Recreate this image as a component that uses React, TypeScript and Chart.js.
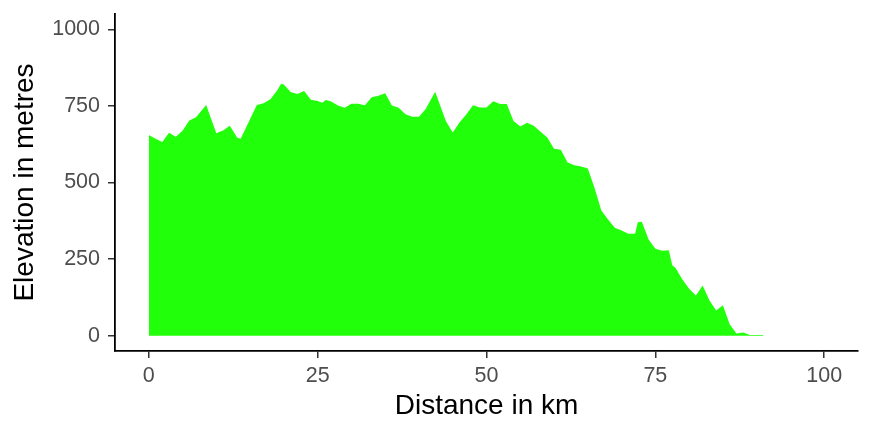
import React, { useEffect, useRef } from "react";
import { Chart, registerables } from "chart.js";

Chart.register(...registerables);

const distanceKm: number[] = [
  0, 1, 2, 3, 4, 5, 6, 7, 8.5, 10, 11, 12, 13.1, 13.6, 16, 17, 18, 19, 19.6, 20,
  21, 22, 23, 24, 25, 25.7, 26.2, 27, 28, 29, 30, 31, 32, 33, 34, 35, 36, 37, 38, 39,
  40, 41, 42.4, 44, 45, 46, 47, 48, 49, 50, 51, 52, 53, 54, 55, 56, 57, 58, 59, 60,
  61, 62, 63, 64, 65, 66, 67, 68, 69, 70, 71, 72, 72.4, 73, 74, 75, 76, 77, 77.5, 78,
  79, 80, 81, 82, 83, 84, 85, 86, 87, 88, 89, 90, 91,
];

const elevationM: number[] = [
  655, 643, 632, 662, 649, 669, 702, 713, 753, 661, 670, 685, 646, 643, 753, 759, 772, 800, 822, 820,
  795, 789, 799, 770, 766, 760, 769, 764, 751, 744, 757, 757, 752, 778, 783, 791, 751, 744, 723, 715,
  715, 740, 796, 700, 663, 696, 722, 752, 745, 745, 765, 756, 756, 701, 683, 695, 685, 666, 647, 610,
  607, 565, 556, 552, 546, 482, 409, 379, 352, 343, 333, 333, 370, 372, 314, 284, 277, 279, 230, 221,
  183, 153, 131, 164, 116, 82, 99, 37, 7, 10, 2, 2, 2,
];

const xTicks: number[] = [0, 25, 50, 75, 100];
const yTicks: number[] = [0, 250, 500, 750, 1000];

const xTitle = "Distance in km";
const yTitle = "Elevation in metres";

export default function App() {
  const canvasRef = useRef<HTMLCanvasElement | null>(null);

  useEffect(() => {
    document.body.style.margin = "0";
    const canvas = canvasRef.current;
    if (!canvas) return;
    const points = distanceKm.map((x, i) => ({ x, y: elevationM[i] }));
    const fontFamily = "'Liberation Sans', Arial, sans-serif";
    const chart = new Chart(canvas, {
      type: "line",
      data: {
        datasets: [
          {
            data: points,
            fill: "origin",
            backgroundColor: "rgb(34,255,10)",
            borderColor: "rgb(34,255,10)",
            borderWidth: 0,
            pointRadius: 0,
            tension: 0,
          },
        ],
      },
      options: {
        responsive: false,
        animation: false,
        layout: { padding: { top: 14, right: 15, left: 0, bottom: 0 } },
        plugins: { legend: { display: false }, tooltip: { enabled: false } },
        scales: {
          x: {
            type: "linear",
            min: -5,
            max: 105,
            afterFit: (s: any) => {
              s.height = 85;
              s.paddingLeft = 0;
              s.paddingRight = 0;
            },
            afterBuildTicks: (s: any) => {
              s.ticks = xTicks.map((v) => ({ value: v }));
            },
            grid: { drawOnChartArea: false, drawTicks: true, tickLength: 7, color: "#333333", lineWidth: 1.5 },
            border: { display: true, color: "#000000", width: 1.8 },
            ticks: {
              color: "#4d4d4d",
              font: { family: fontFamily, size: 21.5 },
              padding: 5,
              maxRotation: 0,
              autoSkip: false,
              callback: (v: any) => String(v),
            },
            title: {
              display: true,
              text: xTitle,
              color: "#000000",
              font: { family: fontFamily, size: 28, lineHeight: 1 },
              padding: { top: 0, bottom: 15.5 },
            },
          },
          y: {
            type: "linear",
            min: -50,
            max: 1050,
            afterFit: (s: any) => {
              s.width = 115;
              s.paddingTop = 0;
              s.paddingBottom = 0;
            },
            afterBuildTicks: (s: any) => {
              s.ticks = yTicks.map((v) => ({ value: v }));
            },
            grid: { drawOnChartArea: false, drawTicks: true, tickLength: 7, color: "#333333", lineWidth: 1.5 },
            border: { display: true, color: "#000000", width: 1.8 },
            ticks: {
              color: "#4d4d4d",
              font: { family: fontFamily, size: 21.5 },
              padding: 8,
              autoSkip: false,
              callback: (v: any) => String(v),
            },
            title: {
              display: true,
              text: yTitle,
              color: "#000000",
              font: { family: fontFamily, size: 28, lineHeight: 1 },
              padding: { top: 11.5, bottom: 0 },
            },
          },
        },
      },
    });
    return () => chart.destroy();
  }, []);

  return (
    <div style={{ position: "absolute", left: 0, top: 0, width: 873, height: 436, background: "#ffffff" }}>
      <canvas ref={canvasRef} width={873} height={436} style={{ width: 873, height: 436 }} />
    </div>
  );
}
